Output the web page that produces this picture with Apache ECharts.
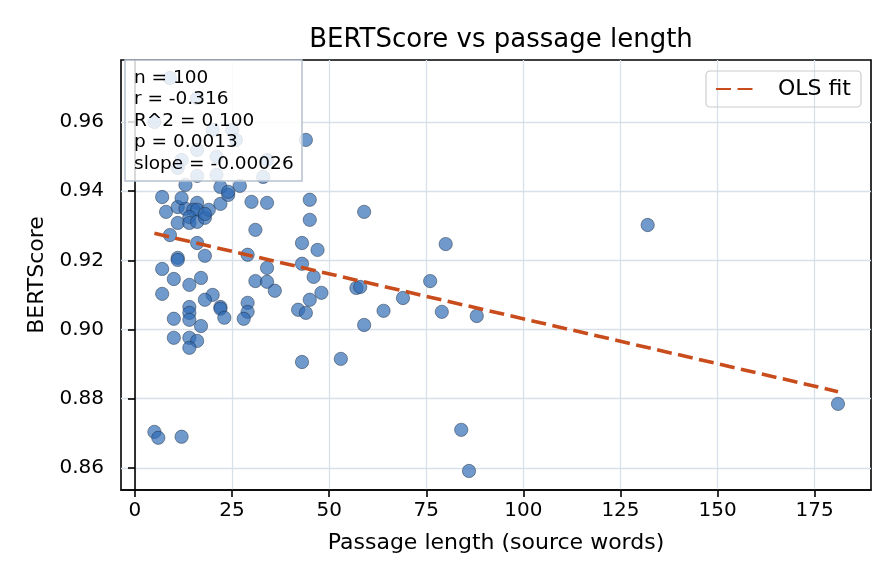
<!DOCTYPE html>
<html>
<head>
<meta charset="utf-8">
<script src="https://cdn.jsdelivr.net/npm/echarts@6/dist/echarts.min.js"></script>
<style>
  html, body { margin: 0; padding: 0; background: #fff; }
  #chart { width: 896px; height: 584px; }
</style>
</head>
<body>
<div id="chart"></div>
<script>
// passage length (source words) per item
var passageWords = [
  9, 5, 16, 20, 25, 12, 16, 11, 16, 21,
  33, 34, 44, 13, 7, 8, 11, 13, 16, 15,
  16, 14, 11, 14, 16, 18, 19, 22, 24, 22,
  27, 30, 34, 45, 45, 59, 31, 43, 47, 29,
  34, 43, 9, 16, 18, 11, 11, 7, 10, 14,
  17, 7, 20, 18, 22, 22, 23, 14, 14, 14,
  10, 17, 10, 14, 16, 14, 29, 29, 28, 31,
  34, 36, 46, 48, 45, 42, 44, 57, 58, 59,
  43, 53, 64, 69, 76, 80, 79, 88, 84, 86,
  132, 181, 5, 6, 12, 24, 21, 12, 18, 26
];
// BERTScore per item
var bertScore = [
  0.9727, 0.9600, 0.9669, 0.9577, 0.9577, 0.9490, 0.9519, 0.9467, 0.9444, 0.9499,
  0.9441, 0.9490, 0.9548, 0.9418, 0.9383, 0.9340, 0.9354, 0.9349, 0.9366, 0.9346,
  0.9346, 0.9325, 0.9308, 0.9308, 0.9311, 0.9323, 0.9346, 0.9363, 0.9389, 0.9412,
  0.9415, 0.9369, 0.9366, 0.9375, 0.9317, 0.9340, 0.9288, 0.9250, 0.9230, 0.9216,
  0.9178, 0.9190, 0.9273, 0.9250, 0.9213, 0.9207, 0.9201, 0.9175, 0.9146, 0.9129,
  0.9149, 0.9103, 0.9100, 0.9086, 0.9065, 0.9060, 0.9034, 0.9065, 0.9048, 0.9028,
  0.9031, 0.9010, 0.8976, 0.8976, 0.8967, 0.8947, 0.9077, 0.9051, 0.9031, 0.9140,
  0.9138, 0.9112, 0.9152, 0.9106, 0.9086, 0.9057, 0.9048, 0.9120, 0.9123, 0.9013,
  0.8906, 0.8915, 0.9054, 0.9091, 0.9140, 0.9247, 0.9051, 0.9039, 0.8710, 0.8591,
  0.9302, 0.8785, 0.8704, 0.8687, 0.8690, 0.9398, 0.9447, 0.9380, 0.9334, 0.9548
];
var xTicks = [0, 25, 50, 75, 100, 125, 150, 175];
var yTicks = [0.86, 0.88, 0.90, 0.92, 0.94, 0.96];
var statsLines = ['n = 100', 'r = -0.316', 'R^2 = 0.100', 'p = 0.0013', 'slope = -0.00026'];
var fitSlope = -0.00026;

var points = passageWords.map(function (w, i) { return [w, bertScore[i]]; });

// OLS line: labelled slope through the centroid of the data
var meanX = passageWords.reduce(function (a, b) { return a + b; }, 0) / passageWords.length;
var meanY = bertScore.reduce(function (a, b) { return a + b; }, 0) / bertScore.length;
var intercept = meanY - fitSlope * meanX;
var xMin = Math.min.apply(null, passageWords), xMax = Math.max.apply(null, passageWords);
var fitLine = [[xMin, intercept + fitSlope * xMin], [xMax, intercept + fitSlope * xMax]];

var font = 'DejaVu Sans';
var myChart = echarts.init(document.getElementById('chart'));
var option = {
  animation: false,
  textStyle: { fontFamily: font },
  title: [{
    text: 'BERTScore vs passage length',
    left: 496, top: 22, textAlign: 'center',
    textStyle: { fontSize: 26, fontWeight: 'normal', color: '#000', fontFamily: font }
  }, {
    text: statsLines.join('\n'),
    left: 125, top: 60,
    padding: [7, 9, 6, 9],
    backgroundColor: 'rgba(255,255,255,0.82)',
    borderColor: '#b5c1d0', borderWidth: 1.5,
    z: 10,
    textStyle: { fontSize: 18.5, fontWeight: 'normal', color: '#000', lineHeight: 21.6, fontFamily: font }
  }],
  legend: {
    right: 35, top: 71,
    padding: [7, 10, 7, 9],
    borderColor: '#cccccc', borderWidth: 1.2, borderRadius: 4,
    itemWidth: 37, itemHeight: 16,
    itemStyle: { opacity: 0 },
    textStyle: { fontSize: 22, color: '#000', fontFamily: font, padding: [0, 0, 0, 20] },
    data: ['OLS fit']
  },
  grid: {
    left: 121, right: 25, top: 60, bottom: 94,
    show: true, borderColor: '#000', borderWidth: 1.6
  },
  xAxis: {
    type: 'value', min: -3.6, max: 189.5,
    name: 'Passage length (source words)', nameLocation: 'middle', nameGap: 42,
    nameTextStyle: { fontSize: 22, color: '#000', fontFamily: font },
    axisLine: { show: true, lineStyle: { color: '#000', width: 1.6 } },
    axisTick: { show: true, length: 7, customValues: xTicks, lineStyle: { color: '#000', width: 1.6 } },
    axisLabel: { customValues: xTicks, fontSize: 20, color: '#000', margin: 11, fontFamily: font },
    splitLine: { show: true, lineStyle: { color: '#d8e0ea', width: 1.3 } }
  },
  yAxis: {
    type: 'value', min: 0.8536, max: 0.9779,
    name: 'BERTScore', nameLocation: 'middle', nameGap: 73,
    nameTextStyle: { fontSize: 22, color: '#000', fontFamily: font },
    axisLine: { show: true, lineStyle: { color: '#000', width: 1.6 } },
    axisTick: { show: true, length: 7, customValues: yTicks, lineStyle: { color: '#000', width: 1.6 } },
    axisLabel: {
      customValues: yTicks, fontSize: 20, color: '#000', margin: 17, fontFamily: font,
      formatter: function (v) { return v.toFixed(2); }
    },
    splitLine: { show: true, lineStyle: { color: '#d8e0ea', width: 1.3 } }
  },
  series: [{
    name: 'points',
    type: 'scatter',
    symbolSize: 13.3,
    data: points,
    itemStyle: { color: 'rgba(45,105,180,0.85)', borderColor: '#1c2a3a', borderWidth: 0.6 },
    z: 2
  }, {
    name: 'OLS fit',
    type: 'line',
    data: fitLine,
    symbol: 'none',
    lineStyle: { color: '#c84c1c', width: 3.6, type: [15, 6.5] },
    itemStyle: { color: '#c84c1c' },
    z: 3
  }]
};
myChart.setOption(option);
</script>
</body>
</html>
